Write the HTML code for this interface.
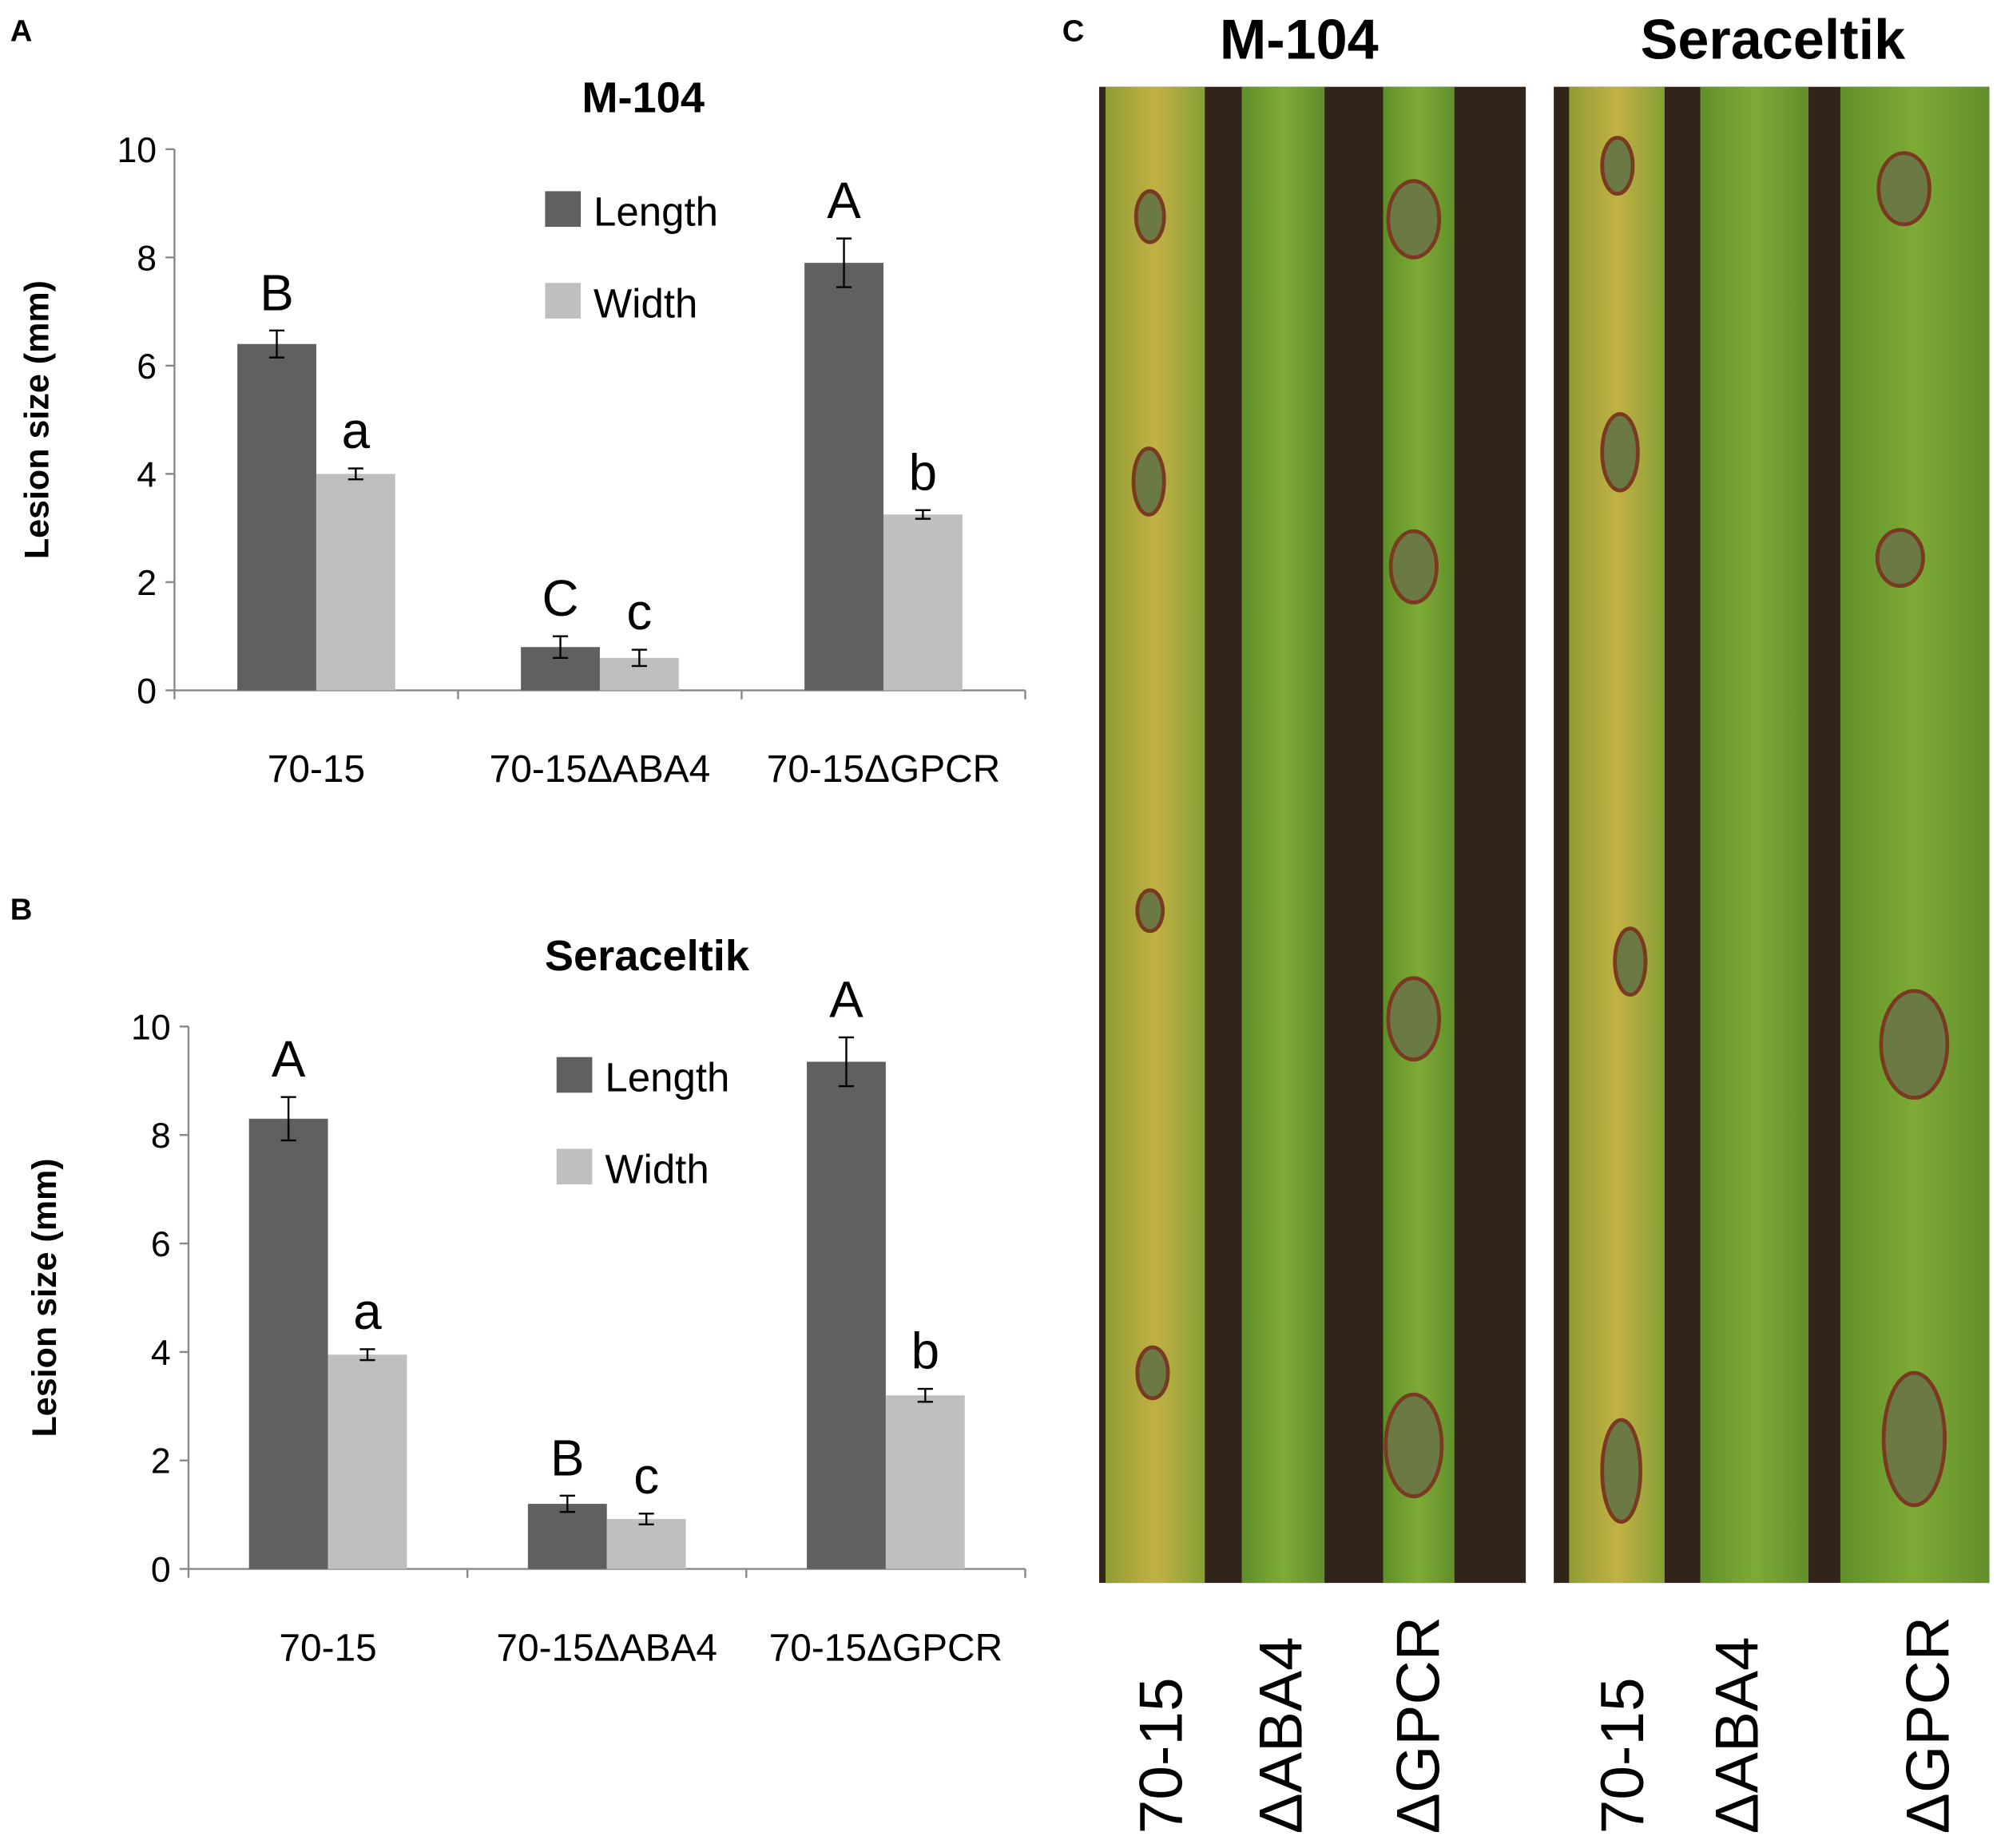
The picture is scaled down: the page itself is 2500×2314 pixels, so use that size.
<!DOCTYPE html>
<html><head><meta charset="utf-8"><style>
html,body{margin:0;padding:0;background:#fff}
svg{display:block}
text{font-family:"Liberation Sans","DejaVu Sans",sans-serif}
</style></head><body>
<svg id="fig" width="2500" height="2314" viewBox="0 0 1568 1451" xmlns="http://www.w3.org/2000/svg">
<defs>
<linearGradient id="leafY" x1="0" x2="1"><stop offset="0" stop-color="#8f9c34"/><stop offset="0.5" stop-color="#c2b144"/><stop offset="1" stop-color="#86a036"/></linearGradient>
<linearGradient id="leafG" x1="0" x2="1"><stop offset="0" stop-color="#5f9028"/><stop offset="0.5" stop-color="#7eaa36"/><stop offset="1" stop-color="#628e2c"/></linearGradient>
</defs>
<text x="8" y="32" font-size="24" font-weight="bold">A</text>
<text x="8" y="722" font-size="24" font-weight="bold">B</text>
<text x="834" y="32" font-size="24" font-weight="bold">C</text>
<g id="chartA"></g>
<g id="chartB"></g>
<g id="photos">
  <rect x="863" y="68" width="335" height="1175" fill="#33241a"/>
  <rect x="868" y="68" width="78" height="1175" fill="url(#leafY)"/>
  <rect x="975" y="68" width="65" height="1175" fill="url(#leafG)"/>
  <rect x="1086" y="68" width="56" height="1175" fill="url(#leafG)"/>
  <rect x="1220" y="68" width="342" height="1175" fill="#33241a"/>
  <rect x="1232" y="68" width="75" height="1175" fill="url(#leafY)"/>
  <rect x="1335" y="68" width="85" height="1175" fill="url(#leafG)"/>
  <rect x="1445" y="68" width="117" height="1175" fill="url(#leafG)"/>
  <g fill="#6b7a45" stroke="#7a3a22" stroke-width="3">
    <ellipse cx="903" cy="170" rx="11" ry="20"/><ellipse cx="902" cy="378" rx="12" ry="26"/><ellipse cx="903" cy="715" rx="10" ry="16"/><ellipse cx="905" cy="1078" rx="12" ry="20"/>
    <ellipse cx="1110" cy="172" rx="20" ry="30"/><ellipse cx="1110" cy="445" rx="18" ry="28"/><ellipse cx="1110" cy="800" rx="20" ry="32"/><ellipse cx="1110" cy="1135" rx="22" ry="40"/>
    <ellipse cx="1270" cy="130" rx="12" ry="22"/><ellipse cx="1272" cy="355" rx="14" ry="30"/><ellipse cx="1280" cy="755" rx="12" ry="26"/><ellipse cx="1273" cy="1155" rx="15" ry="40"/>
    <ellipse cx="1495" cy="148" rx="20" ry="28"/><ellipse cx="1492" cy="438" rx="18" ry="22"/><ellipse cx="1503" cy="820" rx="26" ry="42"/><ellipse cx="1503" cy="1130" rx="24" ry="52"/>
  </g>
</g>
<text x="1020" y="46" font-size="44" font-weight="bold" text-anchor="middle">M-104</text>
<text x="1392" y="46" font-size="44" font-weight="bold" text-anchor="middle">Seraceltik</text>
<g font-size="48">
  <text transform="translate(928,1440) rotate(-90)">70-15</text>
  <text transform="translate(1022,1440) rotate(-90)">ΔABA4</text>
  <text transform="translate(1130,1440) rotate(-90)">ΔGPCR</text>
  <text transform="translate(1290,1440) rotate(-90)">70-15</text>
  <text transform="translate(1380,1440) rotate(-90)">ΔABA4</text>
  <text transform="translate(1530,1440) rotate(-90)">ΔGPCR</text>
</g>
</svg>
<script>
const categories = ["70-15", "70-15ΔABA4", "70-15ΔGPCR"];
const yTicks = [0, 2, 4, 6, 8, 10];
const lengthA = [6.4, 0.8, 7.9];
const widthA = [4.0, 0.6, 3.25];
const lengthErrA = [0.25, 0.2, 0.45];
const widthErrA = [0.1, 0.15, 0.08];
const lettersLenA = ["B", "C", "A"];
const lettersWidA = ["a", "c", "b"];
const lengthB = [8.3, 1.2, 9.35];
const widthB = [3.95, 0.92, 3.2];
const lengthErrB = [0.4, 0.15, 0.45];
const widthErrB = [0.1, 0.1, 0.12];
const lettersLenB = ["A", "B", "A"];
const lettersWidB = ["a", "c", "b"];
const NS = "http://www.w3.org/2000/svg";
function mk(parent, tag, attrs, txt) {
  const e = document.createElementNS(NS, tag);
  for (const k in attrs) e.setAttribute(k, attrs[k]);
  if (txt !== undefined) e.textContent = txt;
  parent.appendChild(e);
  return e;
}
function drawChart(g, cfg) {
  const y = v => cfg.y0 - (v / 10) * (cfg.y0 - cfg.y10);
  const bandW = (cfg.x1 - cfg.x0) / categories.length;
  const cx = i => cfg.x0 + bandW * (i + 0.5);
  const bw = 62;
  let t = mk(g, "text", {x: cfg.titleX, y: cfg.titleY, "font-size": 34, "font-weight": "bold", "text-anchor": "middle"}, cfg.title);
  
  
  let ax = mk(g, "line", {x1: cfg.x0, y1: y(0), x2: cfg.x0, y2: y(10), stroke: "#888", "stroke-width": 1.5});
  
  
  let xa = mk(g, "line", {x1: cfg.x0, y1: y(0), x2: cfg.x1, y2: y(0), stroke: "#888", "stroke-width": 1.5});
  
  
  yTicks.forEach(v => {
    mk(g, "line", {x1: cfg.x0 - 7, y1: y(v), x2: cfg.x0, y2: y(v), stroke: "#888", "stroke-width": 1.5});
    const tl = mk(g, "text", {x: cfg.x0 - 14, y: y(v) + 10, "font-size": 28, "text-anchor": "end"}, v);
    
    
  });
  for (let i = 0; i <= categories.length; i++) {
    const xx = cfg.x0 + bandW * i;
    mk(g, "line", {x1: xx, y1: y(0), x2: xx, y2: y(0) + 7, stroke: "#888", "stroke-width": 1.5});
  }
  const yt = mk(g, "text", {transform: `translate(${cfg.ytX},${(y(0) + y(10)) / 2}) rotate(-90)`, "font-size": 27, "font-weight": "bold", "text-anchor": "middle"}, "Lesion size (mm)");
  
  
  categories.forEach((c, i) => {
    const series = [[cfg.len, cfg.lenErr, cfg.lenL, "#606060", -bw], [cfg.wid, cfg.widErr, cfg.widL, "#bfbfbf", 0]];
    series.forEach((s, k) => {
      const v = s[0][i], e = s[1][i];
      const bx = cx(i) + s[4];
      const r = mk(g, "rect", {x: bx, y: y(v), width: bw, height: y(0) - y(v), fill: s[3]});
      
      
      const m = bx + bw / 2;
      const eb = mk(g, "path", {d: `M${m},${y(v + e)}V${y(v - e)}M${m - 6},${y(v + e)}H${m + 6}M${m - 6},${y(v - e)}H${m + 6}`, stroke: "#000", "stroke-width": 1.5, fill: "none"});
      
      
      const lt = mk(g, "text", {x: m, y: y(v + e) - 16, "font-size": 40, "text-anchor": "middle"}, s[2][i]);
      
      
    });
    const cl = mk(g, "text", {x: cx(i), y: y(0) + 72, "font-size": 30, "text-anchor": "middle"}, c);
    
    
  });
  [["#606060", "Length", 0], ["#bfbfbf", "Width", 72]].forEach(l => {
    const lr = mk(g, "rect", {x: cfg.legX, y: cfg.legY + l[2], width: 28, height: 28, fill: l[0]});
    
    
    const lt = mk(g, "text", {x: cfg.legX + 38, y: cfg.legY + l[2] + 27, "font-size": 32}, l[1]);
    
    
  });
}
drawChart(document.getElementById("chartA"), {x0: 137, x1: 805, y0: 542, y10: 117, title: "M-104", titleX: 505, titleY: 88, ytX: 38, legX: 428, legY: 150, len: lengthA, wid: widthA, lenErr: lengthErrA, widErr: widthErrA, lenL: lettersLenA, widL: lettersWidA});
drawChart(document.getElementById("chartB"), {x0: 148, x1: 805, y0: 1232, y10: 806, title: "Seraceltik", titleX: 508, titleY: 762, ytX: 44, legX: 437, legY: 830, len: lengthB, wid: widthB, lenErr: lengthErrB, widErr: widthErrB, lenL: lettersLenB, widL: lettersWidB});
</script>
</body></html>
